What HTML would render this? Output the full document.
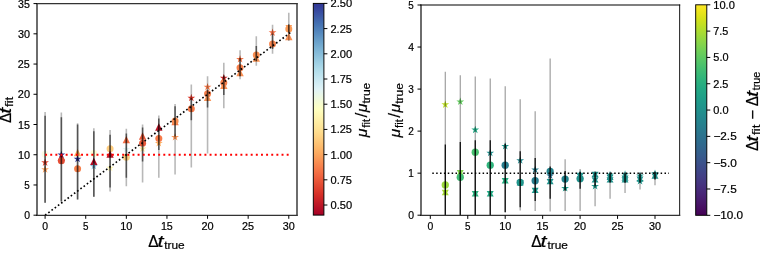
<!DOCTYPE html>
<html><head><meta charset="utf-8"><title>plot</title>
<style>html,body{margin:0;padding:0;background:#fff;width:760px;height:253px;overflow:hidden}svg{display:block;will-change:transform}</style></head><body>
<svg width="760" height="253" viewBox="0 0 760 253" font-family='"Liberation Sans", sans-serif' fill="#000">
<style>text{stroke:#000;stroke-width:0.2px} g text{stroke-width:0.2px}</style>
<rect x="0" y="0" width="760" height="253" fill="#fff"/>
<defs><linearGradient id="g1" x1="0" y1="1" x2="0" y2="0"><stop offset="0.0000" stop-color="#a50026"/><stop offset="0.0312" stop-color="#b50f26"/><stop offset="0.0625" stop-color="#c41e27"/><stop offset="0.0938" stop-color="#d42d27"/><stop offset="0.1250" stop-color="#de402e"/><stop offset="0.1562" stop-color="#e75337"/><stop offset="0.1875" stop-color="#f16640"/><stop offset="0.2188" stop-color="#f67a49"/><stop offset="0.2500" stop-color="#f98e52"/><stop offset="0.2812" stop-color="#fba35c"/><stop offset="0.3125" stop-color="#fdb567"/><stop offset="0.3438" stop-color="#fdc576"/><stop offset="0.3750" stop-color="#fed485"/><stop offset="0.4062" stop-color="#fee294"/><stop offset="0.4375" stop-color="#feeca2"/><stop offset="0.4688" stop-color="#fff6b1"/><stop offset="0.5000" stop-color="#feffc0"/><stop offset="0.5312" stop-color="#f5fbd2"/><stop offset="0.5625" stop-color="#ebf7e4"/><stop offset="0.5938" stop-color="#e1f3f6"/><stop offset="0.6250" stop-color="#d1ecf4"/><stop offset="0.6562" stop-color="#c1e4ef"/><stop offset="0.6875" stop-color="#b0dcea"/><stop offset="0.7188" stop-color="#9fd0e4"/><stop offset="0.7500" stop-color="#8ec2dc"/><stop offset="0.7812" stop-color="#7db4d5"/><stop offset="0.8125" stop-color="#6da4cc"/><stop offset="0.8438" stop-color="#5e93c3"/><stop offset="0.8750" stop-color="#4f81ba"/><stop offset="0.9062" stop-color="#436fb1"/><stop offset="0.9375" stop-color="#3d5ba7"/><stop offset="0.9688" stop-color="#36479e"/><stop offset="1.0000" stop-color="#313695"/></linearGradient>
<linearGradient id="g2" x1="0" y1="1" x2="0" y2="0"><stop offset="0.0000" stop-color="#440154"/><stop offset="0.0312" stop-color="#470d60"/><stop offset="0.0625" stop-color="#48186a"/><stop offset="0.0938" stop-color="#482374"/><stop offset="0.1250" stop-color="#472d7b"/><stop offset="0.1562" stop-color="#453781"/><stop offset="0.1875" stop-color="#424086"/><stop offset="0.2188" stop-color="#3e4989"/><stop offset="0.2500" stop-color="#3b528b"/><stop offset="0.2812" stop-color="#375b8d"/><stop offset="0.3125" stop-color="#33638d"/><stop offset="0.3438" stop-color="#2f6b8e"/><stop offset="0.3750" stop-color="#2c728e"/><stop offset="0.4062" stop-color="#297a8e"/><stop offset="0.4375" stop-color="#26828e"/><stop offset="0.4688" stop-color="#23898e"/><stop offset="0.5000" stop-color="#21918c"/><stop offset="0.5312" stop-color="#1f988b"/><stop offset="0.5625" stop-color="#1fa088"/><stop offset="0.5938" stop-color="#22a785"/><stop offset="0.6250" stop-color="#28ae80"/><stop offset="0.6562" stop-color="#32b67a"/><stop offset="0.6875" stop-color="#3fbc73"/><stop offset="0.7188" stop-color="#4ec36b"/><stop offset="0.7500" stop-color="#5ec962"/><stop offset="0.7812" stop-color="#70cf57"/><stop offset="0.8125" stop-color="#84d44b"/><stop offset="0.8438" stop-color="#98d83e"/><stop offset="0.8750" stop-color="#addc30"/><stop offset="0.9062" stop-color="#c2df23"/><stop offset="0.9375" stop-color="#d8e219"/><stop offset="0.9688" stop-color="#ece51b"/><stop offset="1.0000" stop-color="#fde725"/></linearGradient>
<clipPath id="cl"><rect x="37.0" y="3.6" width="260.0" height="211.70000000000002"/></clipPath>
<clipPath id="cr"><rect x="421.0" y="5.0" width="258.6" height="210.4"/></clipPath></defs>
<g clip-path="url(#cl)">
<circle cx="45.1" cy="154.14" r="3.5" fill="#f8fccb" fill-opacity="0.5"/>
<polygon points="45.1,158.5 44.18,161.33 41.2,161.33 43.61,163.08 42.69,165.92 45.1,164.17 47.51,165.92 46.59,163.08 49,161.33 46.02,161.33" fill="#e24731"/>
<polygon points="45.1,165.33 44.18,168.16 41.2,168.16 43.61,169.92 42.69,172.75 45.1,171 47.51,172.75 46.59,169.92 49,168.16 46.02,168.16" fill="#fba05b"/>
<polygon points="61.35,150.64 60.43,153.47 57.45,153.47 59.86,155.22 58.94,158.06 61.35,156.31 63.76,158.06 62.84,155.22 65.25,153.47 62.27,153.47" fill="#313695"/>
<polygon points="61.35,153.46 57.65,160.86 65.05,160.86" fill="#b30d26"/>
<circle cx="61.35" cy="160.79" r="3.5" fill="#e54e35"/>
<polygon points="77.59,148.92 73.89,156.32 81.29,156.32" fill="#fdad60"/>
<polygon points="77.59,154.87 76.67,157.71 73.69,157.71 76.1,159.46 75.18,162.29 77.59,160.54 80,162.29 79.08,159.46 81.49,157.71 78.51,157.71" fill="#313695"/>
<circle cx="77.59" cy="168.65" r="3.5" fill="#f67f4b"/>
<circle cx="93.84" cy="153.53" r="3.5" fill="#fcfec5" fill-opacity="0.7"/>
<polygon points="93.84,157.69 90.14,165.09 97.54,165.09" fill="#b30d26"/>
<polygon points="93.84,162.13 92.92,164.96 89.94,164.96 92.35,166.71 91.43,169.54 93.84,167.79 96.25,169.54 95.33,166.71 97.74,164.96 94.76,164.96" fill="#8abeda"/>
<circle cx="110.08" cy="148.69" r="3.5" fill="#fecc7e"/>
<polygon points="110.08,150.44 106.38,157.84 113.78,157.84" fill="#b91326"/>
<polygon points="110.08,163.94 109.16,166.77 106.18,166.77 108.59,168.53 107.67,171.36 110.08,169.61 112.49,171.36 111.57,168.53 113.98,166.77 111,166.77" fill="#fff6b1"/>
<polygon points="126.33,135.93 122.63,143.32 130.03,143.32" fill="#f46d43"/>
<polygon points="126.33,145.2 125.41,148.03 122.43,148.03 124.84,149.78 123.92,152.62 126.33,150.86 128.74,152.62 127.82,149.78 130.23,148.03 127.25,148.03" fill="#e2f4f4"/>
<circle cx="126.33" cy="157.16" r="3.5" fill="#fed081"/>
<polygon points="142.58,132.3 138.88,139.7 146.28,139.7" fill="#eb5a3a"/>
<circle cx="142.58" cy="143.25" r="3.5" fill="#eb5a3a"/>
<polygon points="142.58,144.59 141.66,147.43 138.68,147.43 141.09,149.18 140.17,152.01 142.58,150.26 144.99,152.01 144.07,149.18 146.48,147.43 143.5,147.43" fill="#feea9f"/>
<polygon points="158.82,123.23 155.12,130.63 162.52,130.63" fill="#b91326"/>
<circle cx="158.82" cy="138.42" r="3.5" fill="#f67a49"/>
<polygon points="158.82,139.15 157.9,141.99 154.92,141.99 157.33,143.74 156.41,146.57 158.82,144.82 161.23,146.57 160.31,143.74 162.72,141.99 159.74,141.99" fill="#fdad60"/>
<polygon points="175.07,117.79 171.37,125.19 178.77,125.19" fill="#f67a49"/>
<circle cx="175.07" cy="120.88" r="3.5" fill="#f98e52"/>
<polygon points="175.07,133.11 174.15,135.94 171.17,135.94 173.58,137.69 172.66,140.52 175.07,138.77 177.48,140.52 176.56,137.69 178.97,135.94 175.99,135.94" fill="#f99355"/>
<polygon points="191.31,93.81 190.39,96.64 187.41,96.64 189.82,98.39 188.9,101.22 191.31,99.47 193.72,101.22 192.8,98.39 195.21,96.64 192.23,96.64" fill="#da362a"/>
<circle cx="191.31" cy="108.79" r="3.5" fill="#f67a49"/>
<polygon points="207.56,82.92 206.64,85.76 203.66,85.76 206.07,87.51 205.15,90.34 207.56,88.59 209.97,90.34 209.05,87.51 211.46,85.76 208.48,85.76" fill="#f67a49"/>
<circle cx="207.56" cy="93.68" r="3.5" fill="#f67f4b"/>
<polygon points="207.56,93.6 203.86,101 211.26,101" fill="#f99355"/>
<polygon points="223.81,73.86 222.89,76.69 219.91,76.69 222.32,78.44 221.4,81.27 223.81,79.52 226.22,81.27 225.3,78.44 227.71,76.69 224.73,76.69" fill="#cc2627"/>
<circle cx="223.81" cy="82.79" r="3.5" fill="#f67f4b"/>
<polygon points="223.81,81.51 220.11,88.91 227.51,88.91" fill="#f98e52"/>
<polygon points="240.05,55.11 239.13,57.95 236.15,57.95 238.56,59.7 237.64,62.53 240.05,60.78 242.46,62.53 241.54,59.7 243.95,57.95 240.97,57.95" fill="#f57245"/>
<circle cx="240.05" cy="67.68" r="3.5" fill="#f67f4b"/>
<polygon points="240.05,68.81 236.35,76.21 243.75,76.21" fill="#f98e52"/>
<circle cx="256.3" cy="54.98" r="3.5" fill="#f98e52"/>
<polygon points="256.3,54.3 252.6,61.7 260,61.7" fill="#f99355"/>
<polygon points="272.54,28.51 271.62,31.34 268.64,31.34 271.05,33.09 270.13,35.93 272.54,34.18 274.95,35.93 274.03,33.09 276.44,31.34 273.46,31.34" fill="#f46d43"/>
<circle cx="272.54" cy="44.1" r="3.5" fill="#f8864f"/>
<circle cx="288.79" cy="28.98" r="3.5" fill="#fa9b58"/>
<polygon points="288.79,31.68 285.49,25.08 292.09,25.08" fill="#fa9b58"/>
<polygon points="288.79,32.84 285.09,40.24 292.49,40.24" fill="#f98e52"/>
<line x1="45.1" y1="112.12" x2="45.1" y2="202.81" stroke="#000" stroke-width="1.6" stroke-opacity="0.28"/>
<line x1="61.35" y1="112.42" x2="61.35" y2="201.48" stroke="#000" stroke-width="1.6" stroke-opacity="0.28"/>
<line x1="77.59" y1="123.3" x2="77.59" y2="199.48" stroke="#000" stroke-width="1.6" stroke-opacity="0.28"/>
<line x1="93.84" y1="128.14" x2="93.84" y2="196.7" stroke="#000" stroke-width="1.6" stroke-opacity="0.28"/>
<line x1="110.08" y1="129.95" x2="110.08" y2="191.62" stroke="#000" stroke-width="1.6" stroke-opacity="0.28"/>
<line x1="126.33" y1="128.74" x2="126.33" y2="186.18" stroke="#000" stroke-width="1.6" stroke-opacity="0.28"/>
<line x1="142.58" y1="124.51" x2="142.58" y2="182.55" stroke="#000" stroke-width="1.6" stroke-opacity="0.28"/>
<line x1="158.82" y1="115.44" x2="158.82" y2="177.71" stroke="#000" stroke-width="1.6" stroke-opacity="0.28"/>
<line x1="175.07" y1="103.95" x2="175.07" y2="174.39" stroke="#000" stroke-width="1.6" stroke-opacity="0.28"/>
<line x1="191.31" y1="84.61" x2="191.31" y2="167.44" stroke="#000" stroke-width="1.6" stroke-opacity="0.28"/>
<line x1="207.56" y1="76.14" x2="207.56" y2="153.53" stroke="#000" stroke-width="1.6" stroke-opacity="0.28"/>
<line x1="223.81" y1="62.84" x2="223.81" y2="108.19" stroke="#000" stroke-width="1.6" stroke-opacity="0.28"/>
<line x1="240.05" y1="50.14" x2="240.05" y2="79.16" stroke="#000" stroke-width="1.6" stroke-opacity="0.28"/>
<line x1="256.3" y1="36.24" x2="256.3" y2="65.86" stroke="#000" stroke-width="1.6" stroke-opacity="0.28"/>
<line x1="272.54" y1="24.75" x2="272.54" y2="53.77" stroke="#000" stroke-width="1.6" stroke-opacity="0.28"/>
<line x1="288.79" y1="12.66" x2="288.79" y2="41.08" stroke="#000" stroke-width="1.6" stroke-opacity="0.28"/>
<line x1="45.1" y1="115.74" x2="45.1" y2="202.81" stroke="#000" stroke-width="1.6" stroke-opacity="0.55"/>
<line x1="61.35" y1="117.25" x2="61.35" y2="201.48" stroke="#000" stroke-width="1.6" stroke-opacity="0.55"/>
<line x1="77.59" y1="124.51" x2="77.59" y2="199.48" stroke="#000" stroke-width="1.6" stroke-opacity="0.55"/>
<line x1="93.84" y1="131.16" x2="93.84" y2="196.7" stroke="#000" stroke-width="1.6" stroke-opacity="0.55"/>
<line x1="110.08" y1="134.79" x2="110.08" y2="187.39" stroke="#000" stroke-width="1.6" stroke-opacity="0.55"/>
<line x1="126.33" y1="133.58" x2="126.33" y2="177.71" stroke="#000" stroke-width="1.6" stroke-opacity="0.55"/>
<line x1="142.58" y1="127.53" x2="142.58" y2="161.39" stroke="#000" stroke-width="1.6" stroke-opacity="0.55"/>
<line x1="158.82" y1="118.46" x2="158.82" y2="149.9" stroke="#000" stroke-width="1.6" stroke-opacity="0.55"/>
<line x1="175.07" y1="106.37" x2="175.07" y2="136.6" stroke="#000" stroke-width="1.6" stroke-opacity="0.55"/>
<line x1="191.31" y1="97.91" x2="191.31" y2="120.28" stroke="#000" stroke-width="1.6" stroke-opacity="0.55"/>
<line x1="207.56" y1="89.44" x2="207.56" y2="107.58" stroke="#000" stroke-width="1.6" stroke-opacity="0.55"/>
<line x1="223.81" y1="75.54" x2="223.81" y2="94.88" stroke="#000" stroke-width="1.6" stroke-opacity="0.55"/>
<line x1="240.05" y1="58" x2="240.05" y2="76.14" stroke="#000" stroke-width="1.6" stroke-opacity="0.55"/>
<line x1="256.3" y1="45.91" x2="256.3" y2="61.03" stroke="#000" stroke-width="1.6" stroke-opacity="0.55"/>
<line x1="272.54" y1="33.82" x2="272.54" y2="48.93" stroke="#000" stroke-width="1.6" stroke-opacity="0.55"/>
<line x1="288.79" y1="24.15" x2="288.79" y2="33.22" stroke="#000" stroke-width="1.6" stroke-opacity="0.55"/>
<line x1="45.1" y1="154.74" x2="290.29" y2="154.74" stroke="#ff0000" stroke-width="1.95" stroke-dasharray="1.95 3.19"/>
<line x1="45.1" y1="215.2" x2="290.41" y2="32.61" stroke="#000" stroke-width="1.65" stroke-dasharray="1.65 2.35"/>
</g>
<line x1="37" y1="3" x2="37" y2="215.9" stroke="#000" stroke-width="1.15"/>
<line x1="297" y1="3" x2="297" y2="215.9" stroke="#000" stroke-width="1.15"/>
<line x1="36.4" y1="3.6" x2="297.6" y2="3.6" stroke="#333" stroke-width="1.15"/>
<line x1="36.4" y1="215.3" x2="297.6" y2="215.3" stroke="#333" stroke-width="1.15"/>
<line x1="33.5" y1="215.2" x2="37" y2="215.2" stroke="#000" stroke-width="1.0"/>
<text x="24.25" y="219.2" font-size="10.3" textLength="5.8" lengthAdjust="spacingAndGlyphs">0</text>
<line x1="33.5" y1="184.97" x2="37" y2="184.97" stroke="#000" stroke-width="1.0"/>
<text x="24.37" y="188.97" font-size="10.3" textLength="5.48" lengthAdjust="spacingAndGlyphs">5</text>
<line x1="33.5" y1="154.74" x2="37" y2="154.74" stroke="#000" stroke-width="1.0"/>
<text x="17.96" y="158.74" font-size="10.3" textLength="12.11" lengthAdjust="spacingAndGlyphs">10</text>
<line x1="33.5" y1="124.51" x2="37" y2="124.51" stroke="#000" stroke-width="1.0"/>
<text x="17.97" y="128.51" font-size="10.3" textLength="11.91" lengthAdjust="spacingAndGlyphs">15</text>
<line x1="33.5" y1="94.28" x2="37" y2="94.28" stroke="#000" stroke-width="1.0"/>
<text x="17.88" y="98.28" font-size="10.3" textLength="12.2" lengthAdjust="spacingAndGlyphs">20</text>
<line x1="33.5" y1="64.05" x2="37" y2="64.05" stroke="#000" stroke-width="1.0"/>
<text x="17.89" y="68.05" font-size="10.3" textLength="12" lengthAdjust="spacingAndGlyphs">25</text>
<line x1="33.5" y1="33.82" x2="37" y2="33.82" stroke="#000" stroke-width="1.0"/>
<text x="18.05" y="37.82" font-size="10.3" textLength="12.02" lengthAdjust="spacingAndGlyphs">30</text>
<line x1="33.5" y1="3.59" x2="37" y2="3.59" stroke="#000" stroke-width="1.0"/>
<text x="18.05" y="7.59" font-size="10.3" textLength="11.83" lengthAdjust="spacingAndGlyphs">35</text>
<line x1="45.1" y1="215.3" x2="45.1" y2="218.8" stroke="#000" stroke-width="1.0"/>
<text x="42.2" y="229.7" font-size="10.3" textLength="5.8" lengthAdjust="spacingAndGlyphs">0</text>
<line x1="85.72" y1="215.3" x2="85.72" y2="218.8" stroke="#000" stroke-width="1.0"/>
<text x="82.94" y="229.7" font-size="10.3" textLength="5.48" lengthAdjust="spacingAndGlyphs">5</text>
<line x1="126.33" y1="215.3" x2="126.33" y2="218.8" stroke="#000" stroke-width="1.0"/>
<text x="120.29" y="229.7" font-size="10.3" textLength="12.11" lengthAdjust="spacingAndGlyphs">10</text>
<line x1="166.94" y1="215.3" x2="166.94" y2="218.8" stroke="#000" stroke-width="1.0"/>
<text x="160.92" y="229.7" font-size="10.3" textLength="11.91" lengthAdjust="spacingAndGlyphs">15</text>
<line x1="207.56" y1="215.3" x2="207.56" y2="218.8" stroke="#000" stroke-width="1.0"/>
<text x="201.44" y="229.7" font-size="10.3" textLength="12.2" lengthAdjust="spacingAndGlyphs">20</text>
<line x1="248.17" y1="215.3" x2="248.17" y2="218.8" stroke="#000" stroke-width="1.0"/>
<text x="242.06" y="229.7" font-size="10.3" textLength="12" lengthAdjust="spacingAndGlyphs">25</text>
<line x1="288.79" y1="215.3" x2="288.79" y2="218.8" stroke="#000" stroke-width="1.0"/>
<text x="282.83" y="229.7" font-size="10.3" textLength="12.02" lengthAdjust="spacingAndGlyphs">30</text>
<rect x="313.3" y="3.4" width="10.6" height="211.7" fill="url(#g1)" stroke="#000" stroke-width="0.95"/>
<line x1="323.9" y1="205.02" x2="327.4" y2="205.02" stroke="#000" stroke-width="1.0"/>
<text x="330.52" y="209.02" font-size="10.3" textLength="21.6" lengthAdjust="spacingAndGlyphs">0.50</text>
<line x1="323.9" y1="179.82" x2="327.4" y2="179.82" stroke="#000" stroke-width="1.0"/>
<text x="330.52" y="183.82" font-size="10.3" textLength="21.42" lengthAdjust="spacingAndGlyphs">0.75</text>
<line x1="323.9" y1="154.61" x2="327.4" y2="154.61" stroke="#000" stroke-width="1.0"/>
<text x="330.54" y="158.61" font-size="10.3" textLength="21.58" lengthAdjust="spacingAndGlyphs">1.00</text>
<line x1="323.9" y1="129.41" x2="327.4" y2="129.41" stroke="#000" stroke-width="1.0"/>
<text x="330.55" y="133.41" font-size="10.3" textLength="21.39" lengthAdjust="spacingAndGlyphs">1.25</text>
<line x1="323.9" y1="104.21" x2="327.4" y2="104.21" stroke="#000" stroke-width="1.0"/>
<text x="330.54" y="108.21" font-size="10.3" textLength="21.58" lengthAdjust="spacingAndGlyphs">1.50</text>
<line x1="323.9" y1="79.01" x2="327.4" y2="79.01" stroke="#000" stroke-width="1.0"/>
<text x="330.55" y="83.01" font-size="10.3" textLength="21.39" lengthAdjust="spacingAndGlyphs">1.75</text>
<line x1="323.9" y1="53.8" x2="327.4" y2="53.8" stroke="#000" stroke-width="1.0"/>
<text x="330.47" y="57.8" font-size="10.3" textLength="21.66" lengthAdjust="spacingAndGlyphs">2.00</text>
<line x1="323.9" y1="28.6" x2="327.4" y2="28.6" stroke="#000" stroke-width="1.0"/>
<text x="330.47" y="32.6" font-size="10.3" textLength="21.47" lengthAdjust="spacingAndGlyphs">2.25</text>
<line x1="323.9" y1="3.4" x2="327.4" y2="3.4" stroke="#000" stroke-width="1.0"/>
<text x="330.47" y="7.4" font-size="10.3" textLength="21.66" lengthAdjust="spacingAndGlyphs">2.50</text>
<g clip-path="url(#cr)">
<polygon points="445.28,100.53 444.36,103.37 441.38,103.37 443.79,105.12 442.87,107.95 445.28,106.2 447.69,107.95 446.77,105.12 449.18,103.37 446.2,103.37" fill="#bddf26"/>
<circle cx="445.28" cy="184.93" r="3.65" fill="#9bd93c"/>
<polygon points="441.78,189.84 448.78,189.84 447.21,192.5 448.78,195.16 441.78,195.16 443.36,192.5" fill="#a8db34"/>
<polygon points="460.26,97.59 459.34,100.43 456.36,100.43 458.77,102.18 457.85,105.01 460.26,103.26 462.67,105.01 461.75,102.18 464.16,100.43 461.18,100.43" fill="#63cb5f"/>
<polygon points="456.76,170.08 463.76,170.08 462.19,172.74 463.76,175.4 456.76,175.4 458.33,172.74" fill="#81d34d"/>
<circle cx="460.26" cy="177.36" r="3.65" fill="#3fbc73"/>
<polygon points="475.24,125.76 474.32,128.59 471.34,128.59 473.75,130.34 472.83,133.18 475.24,131.42 477.65,133.18 476.73,130.34 479.14,128.59 476.16,128.59" fill="#22a884"/>
<circle cx="475.24" cy="152.14" r="3.65" fill="#48c16e"/>
<polygon points="471.74,191.1 478.74,191.1 477.17,193.76 478.74,196.42 471.74,196.42 473.31,193.76" fill="#2cb17e"/>
<polygon points="490.22,148.88 489.3,151.71 486.32,151.71 488.73,153.46 487.81,156.3 490.22,154.55 492.63,156.3 491.71,153.46 494.12,151.71 491.14,151.71" fill="#218e8d"/>
<circle cx="490.22" cy="165.17" r="3.65" fill="#2fb47c"/>
<polygon points="486.72,191.1 493.72,191.1 492.15,193.76 493.72,196.42 486.72,196.42 488.3,193.76" fill="#22a884"/>
<polygon points="505.2,142.15 504.28,144.99 501.3,144.99 503.71,146.74 502.79,149.57 505.2,147.82 507.61,149.57 506.69,146.74 509.1,144.99 506.12,144.99" fill="#1f958b"/>
<circle cx="505.2" cy="165.17" r="3.65" fill="#287d8e"/>
<polygon points="501.7,178.07 508.7,178.07 507.13,180.73 508.7,183.39 501.7,183.39 503.28,180.73" fill="#26ad81"/>
<polygon points="520.18,156.45 519.26,159.28 516.28,159.28 518.69,161.03 517.77,163.86 520.18,162.11 522.59,163.86 521.67,161.03 524.08,159.28 521.1,159.28" fill="#23898e"/>
<circle cx="520.18" cy="182.41" r="3.65" fill="#21918c"/>
<polygon points="516.68,180.17 523.68,180.17 522.11,182.83 523.68,185.49 516.68,185.49 518.26,182.83" fill="#1f978b"/>
<polygon points="535.16,165.7 534.24,168.53 531.26,168.53 533.67,170.28 532.75,173.11 535.16,171.36 537.57,173.11 536.65,170.28 539.06,168.53 536.08,168.53" fill="#287d8e"/>
<circle cx="535.16" cy="180.73" r="3.65" fill="#287d8e"/>
<polygon points="531.66,187.74 538.66,187.74 537.08,190.4 538.66,193.06 531.66,193.06 533.24,190.4" fill="#1f978b"/>
<circle cx="550.14" cy="171.48" r="3.65" fill="#25848e"/>
<polygon points="550.14,171.58 549.22,174.42 546.24,174.42 548.65,176.17 547.73,179 550.14,177.25 552.55,179 551.63,176.17 554.04,174.42 551.06,174.42" fill="#2e6f8e"/>
<polygon points="546.64,178.91 553.64,178.91 552.06,181.57 553.64,184.23 546.64,184.23 548.22,181.57" fill="#21918c"/>
<circle cx="565.12" cy="179.05" r="3.65" fill="#25848e"/>
<polygon points="565.12,184.19 564.2,187.03 561.22,187.03 563.63,188.78 562.71,191.61 565.12,189.86 567.53,191.61 566.61,188.78 569.02,187.03 566.04,187.03" fill="#1e9c89"/>
<polygon points="576.6,173.44 583.6,173.44 582.02,176.1 583.6,178.76 576.6,178.76 578.18,176.1" fill="#21918c"/>
<circle cx="580.1" cy="178.63" r="3.65" fill="#21918c"/>
<polygon points="580.1,169.9 579.18,172.73 576.2,172.73 578.61,174.48 577.69,177.32 580.1,175.57 582.51,177.32 581.59,174.48 584,172.73 581.02,172.73" fill="#21918c"/>
<polygon points="591.58,171.76 598.58,171.76 597,174.42 598.58,177.08 591.58,177.08 593.16,174.42" fill="#21918c"/>
<polygon points="591.58,177.23 598.58,177.23 597,179.89 598.58,182.55 591.58,182.55 593.16,179.89" fill="#21918c"/>
<polygon points="595.08,182.09 594.16,184.93 591.18,184.93 593.59,186.68 592.67,189.51 595.08,187.76 597.49,189.51 596.57,186.68 598.98,184.93 596,184.93" fill="#1f978b"/>
<polygon points="606.56,174.7 613.56,174.7 611.98,177.36 613.56,180.02 606.56,180.02 608.13,177.36" fill="#21918c"/>
<polygon points="606.56,177.23 613.56,177.23 611.98,179.89 613.56,182.55 606.56,182.55 608.13,179.89" fill="#21918c"/>
<polygon points="610.06,170.74 609.14,173.57 606.16,173.57 608.57,175.33 607.65,178.16 610.06,176.41 612.47,178.16 611.55,175.33 613.96,173.57 610.98,173.57" fill="#21918c"/>
<polygon points="621.54,175.54 628.54,175.54 626.96,178.2 628.54,180.86 621.54,180.86 623.12,178.2" fill="#21918c"/>
<polygon points="621.54,177.23 628.54,177.23 626.96,179.89 628.54,182.55 621.54,182.55 623.12,179.89" fill="#21918c"/>
<polygon points="625.04,170.32 624.12,173.15 621.14,173.15 623.55,174.91 622.63,177.74 625.04,175.99 627.45,177.74 626.53,174.91 628.94,173.15 625.96,173.15" fill="#21918c"/>
<polygon points="636.52,176.39 643.52,176.39 641.94,179.05 643.52,181.71 636.52,181.71 638.1,179.05" fill="#21918c"/>
<polygon points="640.02,177.05 639.1,179.88 636.12,179.88 638.53,181.63 637.61,184.46 640.02,182.71 642.43,184.46 641.51,181.63 643.92,179.88 640.94,179.88" fill="#1f958b"/>
<polygon points="640.02,171.58 639.1,174.42 636.12,174.42 638.53,176.17 637.61,179 640.02,177.25 642.43,179 641.51,176.17 643.92,174.42 640.94,174.42" fill="#21918c"/>
<polygon points="651.5,173.44 658.5,173.44 656.92,176.1 658.5,178.76 651.5,178.76 653.08,176.1" fill="#21918c"/>
<polygon points="655,169.48 654.08,172.31 651.1,172.31 653.51,174.06 652.59,176.9 655,175.15 657.41,176.9 656.49,174.06 658.9,172.31 655.92,172.31" fill="#21918c"/>
<line x1="445.28" y1="71.84" x2="445.28" y2="215.2" stroke="#000" stroke-width="1.15" stroke-opacity="0.4"/>
<line x1="460.26" y1="75.21" x2="460.26" y2="215.2" stroke="#000" stroke-width="1.15" stroke-opacity="0.4"/>
<line x1="475.24" y1="76.47" x2="475.24" y2="215.2" stroke="#000" stroke-width="1.15" stroke-opacity="0.4"/>
<line x1="490.22" y1="78.57" x2="490.22" y2="215.2" stroke="#000" stroke-width="1.15" stroke-opacity="0.4"/>
<line x1="505.2" y1="86.14" x2="505.2" y2="212.26" stroke="#000" stroke-width="1.15" stroke-opacity="0.4"/>
<line x1="520.18" y1="99.17" x2="520.18" y2="210.58" stroke="#000" stroke-width="1.15" stroke-opacity="0.4"/>
<line x1="535.16" y1="111.36" x2="535.16" y2="211" stroke="#000" stroke-width="1.15" stroke-opacity="0.4"/>
<line x1="550.14" y1="58.39" x2="550.14" y2="211.42" stroke="#000" stroke-width="1.15" stroke-opacity="0.4"/>
<line x1="565.12" y1="159.29" x2="565.12" y2="211" stroke="#000" stroke-width="1.15" stroke-opacity="0.4"/>
<line x1="580.1" y1="168.96" x2="580.1" y2="211" stroke="#000" stroke-width="1.15" stroke-opacity="0.4"/>
<line x1="595.08" y1="171.06" x2="595.08" y2="206.37" stroke="#000" stroke-width="1.15" stroke-opacity="0.4"/>
<line x1="610.06" y1="171.9" x2="610.06" y2="198.8" stroke="#000" stroke-width="1.15" stroke-opacity="0.4"/>
<line x1="625.04" y1="171.9" x2="625.04" y2="192.92" stroke="#000" stroke-width="1.15" stroke-opacity="0.4"/>
<line x1="640.02" y1="172.32" x2="640.02" y2="189.56" stroke="#000" stroke-width="1.15" stroke-opacity="0.4"/>
<line x1="655" y1="171.06" x2="655" y2="185.35" stroke="#000" stroke-width="1.15" stroke-opacity="0.4"/>
<line x1="445.28" y1="144.57" x2="445.28" y2="215.2" stroke="#000" stroke-width="1.2" stroke-opacity="1"/>
<line x1="460.26" y1="142.05" x2="460.26" y2="215.2" stroke="#000" stroke-width="1.2" stroke-opacity="1"/>
<line x1="475.24" y1="140.37" x2="475.24" y2="215.2" stroke="#000" stroke-width="1.2" stroke-opacity="1"/>
<line x1="490.22" y1="140.37" x2="490.22" y2="215.2" stroke="#000" stroke-width="1.2" stroke-opacity="1"/>
<line x1="505.2" y1="143.73" x2="505.2" y2="212.26" stroke="#000" stroke-width="1.2" stroke-opacity="1"/>
<line x1="520.18" y1="151.3" x2="520.18" y2="207.21" stroke="#000" stroke-width="1.2" stroke-opacity="1"/>
<line x1="535.16" y1="158.03" x2="535.16" y2="200.91" stroke="#000" stroke-width="1.2" stroke-opacity="1"/>
<line x1="550.14" y1="166.43" x2="550.14" y2="198.8" stroke="#000" stroke-width="1.2" stroke-opacity="1"/>
<line x1="565.12" y1="171.06" x2="565.12" y2="190.82" stroke="#000" stroke-width="1.2" stroke-opacity="1"/>
<line x1="580.1" y1="172.32" x2="580.1" y2="188.71" stroke="#000" stroke-width="1.2" stroke-opacity="1"/>
<line x1="595.08" y1="173.16" x2="595.08" y2="186.19" stroke="#000" stroke-width="1.2" stroke-opacity="1"/>
<line x1="610.06" y1="173.16" x2="610.06" y2="182.41" stroke="#000" stroke-width="1.2" stroke-opacity="1"/>
<line x1="625.04" y1="173.16" x2="625.04" y2="182.83" stroke="#000" stroke-width="1.2" stroke-opacity="1"/>
<line x1="640.02" y1="173.16" x2="640.02" y2="182.41" stroke="#000" stroke-width="1.2" stroke-opacity="1"/>
<line x1="655" y1="171.9" x2="655" y2="179.47" stroke="#000" stroke-width="1.2" stroke-opacity="1"/>
<line x1="432.3" y1="173.16" x2="669" y2="173.16" stroke="#000" stroke-width="1.5" stroke-dasharray="1.5 2.37"/>
</g>
<line x1="421" y1="4.4" x2="421" y2="216" stroke="#000" stroke-width="1.15"/>
<line x1="679.6" y1="4.4" x2="679.6" y2="216" stroke="#333" stroke-width="1.15"/>
<line x1="420.4" y1="5" x2="680.2" y2="5" stroke="#000" stroke-width="1.15"/>
<line x1="420.4" y1="215.4" x2="680.2" y2="215.4" stroke="#333" stroke-width="1.15"/>
<line x1="417.5" y1="215.2" x2="421" y2="215.2" stroke="#000" stroke-width="1.0"/>
<text x="408.25" y="219.2" font-size="10.3" textLength="5.8" lengthAdjust="spacingAndGlyphs">0</text>
<line x1="417.5" y1="173.16" x2="421" y2="173.16" stroke="#000" stroke-width="1.0"/>
<text x="408.33" y="177.16" font-size="10.3" textLength="5.54" lengthAdjust="spacingAndGlyphs">1</text>
<line x1="417.5" y1="131.12" x2="421" y2="131.12" stroke="#000" stroke-width="1.0"/>
<text x="408.22" y="135.12" font-size="10.3" textLength="5.59" lengthAdjust="spacingAndGlyphs">2</text>
<line x1="417.5" y1="89.08" x2="421" y2="89.08" stroke="#000" stroke-width="1.0"/>
<text x="408.37" y="93.08" font-size="10.3" textLength="5.57" lengthAdjust="spacingAndGlyphs">3</text>
<line x1="417.5" y1="47.04" x2="421" y2="47.04" stroke="#000" stroke-width="1.0"/>
<text x="408.25" y="51.04" font-size="10.3" textLength="5.8" lengthAdjust="spacingAndGlyphs">4</text>
<line x1="417.5" y1="5" x2="421" y2="5" stroke="#000" stroke-width="1.0"/>
<text x="408.37" y="9" font-size="10.3" textLength="5.48" lengthAdjust="spacingAndGlyphs">5</text>
<line x1="430.3" y1="215.4" x2="430.3" y2="218.9" stroke="#000" stroke-width="1.0"/>
<text x="427.4" y="229.7" font-size="10.3" textLength="5.8" lengthAdjust="spacingAndGlyphs">0</text>
<line x1="467.75" y1="215.4" x2="467.75" y2="218.9" stroke="#000" stroke-width="1.0"/>
<text x="464.97" y="229.7" font-size="10.3" textLength="5.48" lengthAdjust="spacingAndGlyphs">5</text>
<line x1="505.2" y1="215.4" x2="505.2" y2="218.9" stroke="#000" stroke-width="1.0"/>
<text x="499.16" y="229.7" font-size="10.3" textLength="12.11" lengthAdjust="spacingAndGlyphs">10</text>
<line x1="542.65" y1="215.4" x2="542.65" y2="218.9" stroke="#000" stroke-width="1.0"/>
<text x="536.62" y="229.7" font-size="10.3" textLength="11.91" lengthAdjust="spacingAndGlyphs">15</text>
<line x1="580.1" y1="215.4" x2="580.1" y2="218.9" stroke="#000" stroke-width="1.0"/>
<text x="573.98" y="229.7" font-size="10.3" textLength="12.2" lengthAdjust="spacingAndGlyphs">20</text>
<line x1="617.55" y1="215.4" x2="617.55" y2="218.9" stroke="#000" stroke-width="1.0"/>
<text x="611.43" y="229.7" font-size="10.3" textLength="12" lengthAdjust="spacingAndGlyphs">25</text>
<line x1="655" y1="215.4" x2="655" y2="218.9" stroke="#000" stroke-width="1.0"/>
<text x="649.04" y="229.7" font-size="10.3" textLength="12.02" lengthAdjust="spacingAndGlyphs">30</text>
<rect x="695.7" y="4.8" width="11.1" height="210.5" fill="url(#g2)" stroke="#000" stroke-width="0.95"/>
<line x1="706.8" y1="215.3" x2="710.3" y2="215.3" stroke="#000" stroke-width="1.0"/>
<text x="713.47" y="219.2" font-size="10.3" textLength="29.67" lengthAdjust="spacingAndGlyphs">−10.0</text>
<line x1="706.8" y1="188.99" x2="710.3" y2="188.99" stroke="#000" stroke-width="1.0"/>
<text x="713.47" y="192.89" font-size="10.3" textLength="23.2" lengthAdjust="spacingAndGlyphs">−7.5</text>
<line x1="706.8" y1="162.68" x2="710.3" y2="162.68" stroke="#000" stroke-width="1.0"/>
<text x="713.46" y="166.58" font-size="10.3" textLength="23.38" lengthAdjust="spacingAndGlyphs">−5.0</text>
<line x1="706.8" y1="136.36" x2="710.3" y2="136.36" stroke="#000" stroke-width="1.0"/>
<text x="713.47" y="140.26" font-size="10.3" textLength="23.2" lengthAdjust="spacingAndGlyphs">−2.5</text>
<line x1="706.8" y1="110.05" x2="710.3" y2="110.05" stroke="#000" stroke-width="1.0"/>
<text x="713.22" y="113.95" font-size="10.3" textLength="15.29" lengthAdjust="spacingAndGlyphs">0.0</text>
<line x1="706.8" y1="83.74" x2="710.3" y2="83.74" stroke="#000" stroke-width="1.0"/>
<text x="713.18" y="87.64" font-size="10.3" textLength="15.16" lengthAdjust="spacingAndGlyphs">2.5</text>
<line x1="706.8" y1="57.43" x2="710.3" y2="57.43" stroke="#000" stroke-width="1.0"/>
<text x="713.33" y="61.33" font-size="10.3" textLength="15.19" lengthAdjust="spacingAndGlyphs">5.0</text>
<line x1="706.8" y1="31.11" x2="710.3" y2="31.11" stroke="#000" stroke-width="1.0"/>
<text x="713.26" y="35.01" font-size="10.3" textLength="15.08" lengthAdjust="spacingAndGlyphs">7.5</text>
<line x1="706.8" y1="4.8" x2="710.3" y2="4.8" stroke="#000" stroke-width="1.0"/>
<text x="713.24" y="8.7" font-size="10.3" textLength="21.58" lengthAdjust="spacingAndGlyphs">10.0</text>
<g><text x="148.14" y="246.6" font-size="15.8" textLength="10.33" lengthAdjust="spacingAndGlyphs">Δ</text><text x="157.41" y="246.6" font-size="15.8" font-style="italic" textLength="6.03" lengthAdjust="spacingAndGlyphs">t</text><text x="164.22" y="248.7" font-size="11.1" textLength="20.51" lengthAdjust="spacingAndGlyphs">true</text></g>
<g><text x="531.34" y="246.6" font-size="15.8" textLength="10.33" lengthAdjust="spacingAndGlyphs">Δ</text><text x="540.61" y="246.6" font-size="15.8" font-style="italic" textLength="6.03" lengthAdjust="spacingAndGlyphs">t</text><text x="547.42" y="248.7" font-size="11.1" textLength="20.51" lengthAdjust="spacingAndGlyphs">true</text></g>
<g transform="translate(0,122.6) rotate(-90)"><text x="-0.46" y="10.7" font-size="15.8" textLength="10.33" lengthAdjust="spacingAndGlyphs">Δ</text><text x="8.81" y="10.7" font-size="15.8" font-style="italic" textLength="6.03" lengthAdjust="spacingAndGlyphs">t</text><text x="15.61" y="13" font-size="11.1" textLength="10.18" lengthAdjust="spacingAndGlyphs">fit</text></g>
<g transform="translate(0,137.5) rotate(-90)"><text x="0.33" y="367" font-size="15.3" font-style="italic" textLength="8.72" lengthAdjust="spacingAndGlyphs">μ</text><text x="9.84" y="369.5" font-size="11.1" textLength="8.74" lengthAdjust="spacingAndGlyphs">fit</text><text x="20.1" y="367" font-size="15.8" textLength="4.8" lengthAdjust="spacingAndGlyphs">/</text><text x="25.23" y="367" font-size="15.3" font-style="italic" textLength="8.72" lengthAdjust="spacingAndGlyphs">μ</text><text x="34.02" y="369.5" font-size="11.1" textLength="20.82" lengthAdjust="spacingAndGlyphs">true</text></g>
<g transform="translate(0,137.8) rotate(-90)"><text x="0.33" y="400" font-size="15.3" font-style="italic" textLength="8.72" lengthAdjust="spacingAndGlyphs">μ</text><text x="9.84" y="402.6" font-size="11.1" textLength="8.74" lengthAdjust="spacingAndGlyphs">fit</text><text x="20.1" y="400" font-size="15.8" textLength="4.8" lengthAdjust="spacingAndGlyphs">/</text><text x="25.23" y="400" font-size="15.3" font-style="italic" textLength="8.72" lengthAdjust="spacingAndGlyphs">μ</text><text x="34.02" y="402.6" font-size="11.1" textLength="20.82" lengthAdjust="spacingAndGlyphs">true</text></g>
<g transform="translate(0,150.5) rotate(-90)"><text x="-0.46" y="758" font-size="15.8" textLength="10.33" lengthAdjust="spacingAndGlyphs">Δ</text><text x="8.81" y="758" font-size="15.8" font-style="italic" textLength="6.03" lengthAdjust="spacingAndGlyphs">t</text><text x="15.61" y="760.3" font-size="11.1" textLength="10.18" lengthAdjust="spacingAndGlyphs">fit</text><text x="30.87" y="758" font-size="15.8" textLength="9.86" lengthAdjust="spacingAndGlyphs">−</text><text x="44.14" y="758" font-size="15.8" textLength="10.33" lengthAdjust="spacingAndGlyphs">Δ</text><text x="53.41" y="758" font-size="15.8" font-style="italic" textLength="6.03" lengthAdjust="spacingAndGlyphs">t</text><text x="60.24" y="760.3" font-size="11.1" textLength="18.44" lengthAdjust="spacingAndGlyphs">true</text></g>
</svg>
</body></html>
